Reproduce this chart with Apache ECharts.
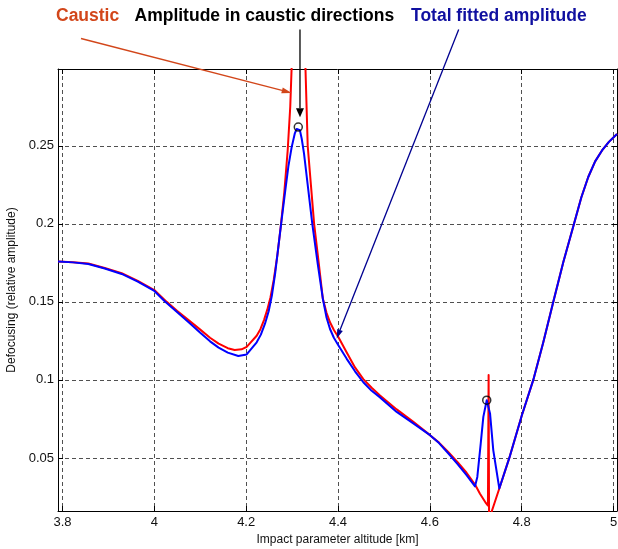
<!DOCTYPE html>
<html><head><meta charset="utf-8">
<script src="https://cdn.jsdelivr.net/npm/echarts@6/dist/echarts.min.js"></script>
<style>html,body{margin:0;padding:0;background:#fff}#c{width:618px;height:549px}</style>
</head><body><div id="c"></div>
<script>
// ---- data ----
const causticX = [3.7902, 3.8230, 3.8562, 3.8920, 3.9289, 3.9640, 4.0000, 4.0270, 4.0500, 4.0778, 4.1000, 4.1213, 4.1400, 4.1600, 4.1750, 4.1900, 4.2011, 4.2229, 4.2310, 4.2390, 4.2460, 4.2530, 4.2600, 4.2680, 4.2752, 4.2830, 4.2904, 4.2960, 4.2990, 4.3060, 4.3140, 4.3220, 4.3292, 4.3340, 4.3410, 4.3480, 4.3580, 4.3670, 4.3750, 4.3826, 4.3910, 4.4007, 4.4190, 4.4370, 4.4551, 4.4733, 4.4915, 4.5278, 4.5640, 4.6004, 4.6200, 4.6400, 4.6600, 4.6800, 4.6984, 4.7092, 4.7223, 4.7265, 4.7280, 4.7292, 4.7345, 4.7513, 4.7731, 4.8001, 4.8253, 4.8471, 4.8689, 4.8906, 4.9140, 4.9300, 4.9450, 4.9600, 4.9750, 4.9900, 5.0076];
const causticY = [0.1759, 0.1754, 0.1746, 0.1717, 0.1684, 0.1635, 0.1576, 0.1500, 0.1442, 0.1375, 0.1322, 0.1270, 0.1232, 0.1203, 0.1192, 0.1196, 0.1212, 0.1283, 0.1325, 0.1385, 0.1450, 0.1530, 0.1640, 0.1800, 0.1980, 0.2200, 0.2470, 0.2750, 0.3000, 0.3600, 0.4000, 0.3600, 0.2990, 0.2500, 0.2250, 0.2000, 0.1750, 0.1520, 0.1430, 0.1369, 0.1320, 0.1275, 0.1175, 0.1080, 0.1005, 0.0950, 0.0900, 0.0811, 0.0731, 0.0646, 0.0598, 0.0538, 0.0475, 0.0405, 0.0330, 0.0271, 0.0210, 0.0195, 0.1031, -0.0100, 0.0155, 0.0304, 0.0500, 0.0770, 0.1000, 0.1241, 0.1500, 0.1754, 0.2000, 0.2170, 0.2300, 0.2400, 0.2470, 0.2525, 0.2576];
const fittedX = [3.7902, 3.8230, 3.8562, 3.8920, 3.9289, 3.9640, 4.0000, 4.0232, 4.0500, 4.0778, 4.1000, 4.1213, 4.1400, 4.1600, 4.1829, 4.2011, 4.2229, 4.2320, 4.2410, 4.2490, 4.2560, 4.2630, 4.2700, 4.2774, 4.2850, 4.2920, 4.2990, 4.3060, 4.3100, 4.3135, 4.3170, 4.3210, 4.3260, 4.3340, 4.3440, 4.3560, 4.3670, 4.3750, 4.3826, 4.3910, 4.4007, 4.4190, 4.4370, 4.4551, 4.4733, 4.4915, 4.5278, 4.5640, 4.6004, 4.6200, 4.6400, 4.6600, 4.6800, 4.6984, 4.7034, 4.7108, 4.7165, 4.7239, 4.7311, 4.7382, 4.7513, 4.7731, 4.8001, 4.8253, 4.8471, 4.8689, 4.8906, 4.9140, 4.9300, 4.9450, 4.9600, 4.9750, 4.9900, 5.0076];
const fittedY = [0.1758, 0.1753, 0.1743, 0.1714, 0.1679, 0.1630, 0.1570, 0.1502, 0.1433, 0.1362, 0.1302, 0.1247, 0.1207, 0.1175, 0.1153, 0.1163, 0.1241, 0.1290, 0.1360, 0.1440, 0.1540, 0.1680, 0.1850, 0.2030, 0.2210, 0.2370, 0.2490, 0.2580, 0.2608, 0.2620, 0.2600, 0.2545, 0.2450, 0.2250, 0.2000, 0.1740, 0.1520, 0.1400, 0.1326, 0.1270, 0.1222, 0.1135, 0.1055, 0.0985, 0.0930, 0.0888, 0.0795, 0.0721, 0.0646, 0.0595, 0.0530, 0.0462, 0.0390, 0.0318, 0.0378, 0.0592, 0.0763, 0.0870, 0.0785, 0.0549, 0.0304, 0.0500, 0.0770, 0.1000, 0.1241, 0.1500, 0.1754, 0.2000, 0.2170, 0.2300, 0.2400, 0.2470, 0.2525, 0.2576];
const markerX = [4.3135, 4.7239];
const markerY = [0.2620, 0.0870];
const xTicks = [3.8, 4, 4.2, 4.4, 4.6, 4.8, 5];
const yTicks = [0.05, 0.1, 0.15, 0.2, 0.25];
const xRange = [3.7902, 5.0076];
const yRange = [0.016, 0.2992];
const xName = 'Impact parameter altitude [km]';
const yName = 'Defocusing (relative amplitude)';
const annoTexts = ['Caustic', 'Amplitude in caustic directions', 'Total fitted amplitude'];
const annoTipX = [4.2991, 4.3172, 4.3972];
const annoTipY = [0.2839, 0.2683, 0.1266];

// ---- chart ----
const FONT = "'Liberation Sans', Arial, Helvetica, sans-serif";
const chart = echarts.init(document.getElementById('c'), null, {renderer: 'canvas'});
const pairs = (xs, ys) => xs.map((x, i) => [x, ys[i]]);
const gridLine = {show: true, lineStyle: {color: '#505050', width: 1, type: [4, 3]}};
const baseX = {
  type: 'value', min: xRange[0], max: xRange[1],
  axisLine: {show: true, onZero: false, lineStyle: {color: '#000', width: 1}},
  axisTick: {show: true, inside: true, length: 5, customValues: xTicks, lineStyle: {color: '#000'}},
};
const baseY = {
  type: 'value', min: yRange[0], max: yRange[1],
  axisLine: {show: true, onZero: false, lineStyle: {color: '#000', width: 1}},
  axisTick: {show: true, inside: true, length: 5, customValues: yTicks, lineStyle: {color: '#000'}},
};
chart.setOption({
  animation: false,
  backgroundColor: '#fff',
  grid: {left: 58, right: 1, top: 69, bottom: 38, containLabel: false, outerBoundsMode: 'none'},
  xAxis: [
    Object.assign({}, baseX, {
      position: 'bottom',
      axisLabel: {show: true, customValues: xTicks, margin: 5, color: '#111', fontSize: 13, fontFamily: FONT, formatter: v => String(+v.toFixed(2))},
      splitLine: gridLine,
      name: xName, nameLocation: 'middle', nameGap: 20,
      nameTextStyle: {color: '#111', fontSize: 12, fontFamily: FONT}
    }),
    Object.assign({}, baseX, {position: 'top', axisLabel: {show: false}, splitLine: {show: false}})
  ],
  yAxis: [
    Object.assign({}, baseY, {
      position: 'left',
      axisLabel: {show: true, customValues: yTicks, margin: 4, color: '#111', fontSize: 13, fontFamily: FONT, formatter: v => String(+v.toFixed(3))},
      splitLine: gridLine,
      name: yName, nameLocation: 'middle', nameGap: 35, nameRotate: 90,
      nameTextStyle: {color: '#111', fontSize: 12, fontFamily: FONT}
    }),
    Object.assign({}, baseY, {position: 'right', axisLabel: {show: false}, splitLine: {show: false}})
  ],
  series: [
    {type: 'line', name: 'Caustic', data: pairs(causticX, causticY), showSymbol: false, clip: true,
     lineStyle: {color: '#ff0000', width: 2, join: 'round'}, z: 3},
    {type: 'line', name: 'Total fitted amplitude', data: pairs(fittedX, fittedY), showSymbol: false, clip: true,
     lineStyle: {color: '#0000ff', width: 2, join: 'round'}, z: 4},
    {type: 'scatter', name: 'Amplitude in caustic directions', data: pairs(markerX, markerY), symbol: 'circle', symbolSize: 8,
     itemStyle: {color: 'rgba(0,0,0,0)', borderColor: '#000', borderWidth: 1.5}, z: 5}
  ]
});

// ---- annotations ----
const tip = i => chart.convertToPixel({xAxisIndex: 0, yAxisIndex: 0}, [annoTipX[i], annoTipY[i]]);
function arrow(x0, y0, x1, y1, color, lw, hl, hw) {
  const dx = x1 - x0, dy = y1 - y0, len = Math.hypot(dx, dy);
  const ux = dx / len, uy = dy / len;
  const bx = x1 - ux * hl, by = y1 - uy * hl;
  return [
    {type: 'line', silent: true, z: 100, shape: {x1: x0, y1: y0, x2: bx, y2: by}, style: {stroke: color, lineWidth: lw}},
    {type: 'polygon', silent: true, z: 100, shape: {points: [[x1, y1], [bx - uy * hw / 2, by + ux * hw / 2], [bx + uy * hw / 2, by - ux * hw / 2]]}, style: {fill: color}}
  ];
}
const t0 = tip(0), t1 = tip(1), t2 = tip(2);
const ORANGE = '#d2461a', NAVY = '#1010a0';
const textStyle = (txt, x, color) => ({type: 'text', silent: true, z: 100, x: x, y: 16,
  style: {text: txt, fill: color, font: 'bold 17.5px ' + FONT, textAlign: 'left', textVerticalAlign: 'middle'}});
chart.setOption({graphic: [
  textStyle(annoTexts[0], 56, ORANGE),
  textStyle(annoTexts[1], 134.5, '#000'),
  textStyle(annoTexts[2], 411, NAVY),
  ...arrow(81, 38.5, t0[0], t0[1], ORANGE, 1.3, 10, 6),
  ...arrow(t1[0], 29.5, t1[0], t1[1], '#000', 1.3, 9, 8),
  ...arrow(458.7, 29.5, t2[0], t2[1], '#000090', 1.3, 9, 6)
]});
</script></body></html>
